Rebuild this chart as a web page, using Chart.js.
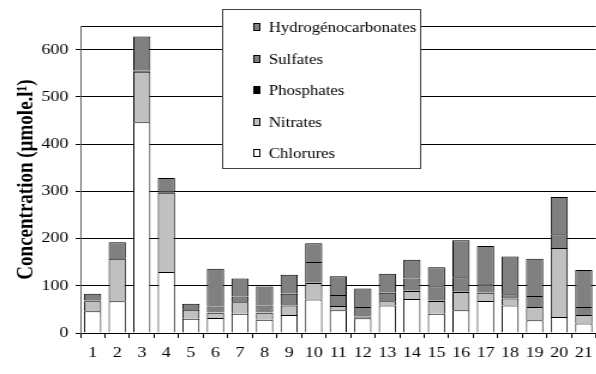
<!DOCTYPE html>
<html>
<head>
<meta charset="utf-8">
<script src="https://cdn.jsdelivr.net/npm/chart.js@4"></script>
<style>
  html, body { margin: 0; padding: 0; overflow: hidden; background: #fff; }
  canvas { display: block; }
</style>
</head>
<body>
<!-- drawn narrow then stretched sideways, as the source figure was -->
<canvas id="chart" width="500" height="374" style="width:600px;height:374px"></canvas>
<script>
const stations = ['1','2','3','4','5','6','7','8','9','10','11','12','13','14','15','16','17','18','19','20','21'];

const chlorures = [46, 67, 446, 129, 30, 32, 41, 28, 38, 71, 48, 31, 58, 72, 41, 48, 68, 58, 27, 34, 20];
const nitrates = [21, 90, 107, 168, 19, 11, 24, 15, 20, 35, 9, 4, 9, 17, 27, 39, 17, 15, 28, 146, 18];
const phosphates = [2, 2, 2, 2, 2, 0.2, 0.2, 0.2, 0.2, 0.2, 0.2, 0.2, 0.2, 0.2, 0.2, 0.2, 0.2, 0.2, 0.2, 0.2, 0.2];
const sulfates = [14, 33, 73, 29, 11, 13, 12, 15, 25, 44, 23, 20, 18, 26, 31, 31, 18, 9, 23, 29, 17];
const hydrogenocarbonates = [0, 0, 0, 0, 0, 80, 38, 40, 40, 40, 40, 39, 40, 40, 40, 78, 81, 80, 79, 79, 78];

const yTicks = [0, 100, 200, 300, 400, 500, 600];

const serif = 'Liberation Serif';

// legend drawn in a framed box over the plot, like the original
const legendBox = {
    id: 'legendBox',
    afterDraw(chart) {
        const ctx = chart.ctx;
        const x0 = 185, y0 = 9, w = 165, h = 159;
        ctx.save();
        ctx.fillStyle = '#fff';
        ctx.fillRect(x0, y0, w, h);
        ctx.strokeStyle = '#444';
        ctx.lineWidth = 1;
        ctx.strokeRect(x0 + 0.5, y0 + 0.5, w, h);
        ctx.font = Chart.helpers.toFont({ family: serif, size: 14 }).string;
        ctx.textBaseline = 'middle';
        ctx.textAlign = 'left';
        const items = chart.data.datasets.slice().reverse();
        items.forEach(function(ds, i) {
            const cy = Math.round(27 + i * 31.5);
            ctx.fillStyle = ds.backgroundColor;
            ctx.fillRect(211, cy - 4, 6, 8);
            ctx.strokeStyle = '#000';
            ctx.strokeRect(211.5, cy - 3.5, 5, 7);
            ctx.fillStyle = '#000';
            ctx.fillText(ds.label, 224, cy + 1);
        });
        ctx.restore();
    }
};

function series(label, data, color) {
    return {
        label: label,
        data: data,
        backgroundColor: color,
        borderColor: '#000',
        borderWidth: 1,
        categoryPercentage: 1,
        barPercentage: 0.7
    };
}

new Chart(document.getElementById('chart'), {
    type: 'bar',
    data: {
        labels: stations,
        datasets: [
            series('Chlorures', chlorures, '#ffffff'),
            series('Nitrates', nitrates, '#c0c0c0'),
            series('Phosphates', phosphates, '#000000'),
            series('Sulfates', sulfates, '#808080'),
            series('Hydrogénocarbonates', hydrogenocarbonates, '#808080')
        ]
    },
    options: {
        responsive: false,
        animation: false,
        devicePixelRatio: 1,
        layout: { padding: { top: 26, right: 1, bottom: 0, left: 0 } },
        plugins: {
            legend: { display: false },
            tooltip: { enabled: false }
        },
        scales: {
            x: {
                stacked: true,
                offset: true,
                grid: {
                    offset: true,
                    drawOnChartArea: false,
                    tickLength: 5,
                    color: '#000'
                },
                border: { color: '#000' },
                ticks: {
                    color: '#000',
                    font: { family: serif, size: 15 },
                    padding: 6,
                    maxRotation: 0,
                    autoSkip: false
                },
                afterFit(scale) { scale.height = 41; }
            },
            y: {
                stacked: true,
                min: 0,
                max: 650,
                afterBuildTicks(scale) {
                    scale.ticks = yTicks.map(v => ({ value: v })).concat([{ value: 650 }]);
                },
                grid: {
                    tickLength: 4,
                    color: '#000',
                    tickColor: ctx => ctx.tick && ctx.tick.value === 650 ? 'rgba(0,0,0,0)' : '#000'
                },
                border: { color: '#666' },
                ticks: {
                    color: '#000',
                    font: { family: serif, size: 15 },
                    padding: 6,
                    callback: v => v === 650 ? '' : v
                },
                title: {
                    display: true,
                    text: 'Concentration (µmole.l¹)',
                    color: '#000',
                    font: { family: serif, size: 19, weight: 'bold' },
                    padding: { top: 11, bottom: 0 }
                },
                afterFit(scale) { scale.width = 67; }
            }
        }
    },
    plugins: [legendBox]
});
</script>
</body>
</html>
